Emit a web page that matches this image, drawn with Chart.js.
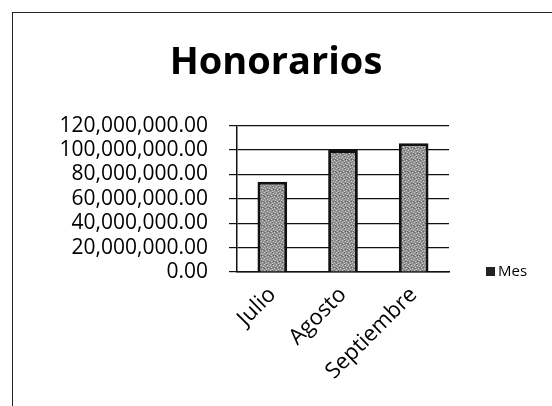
<!DOCTYPE html>
<html><head><meta charset="utf-8">
<script src="https://cdn.jsdelivr.net/npm/chart.js@4/dist/chart.umd.min.js"></script>
<style>
html,body{margin:0;padding:0;background:#fff;}
#wrap{position:relative;width:552px;height:406px;overflow:hidden;}
#frame{position:absolute;left:12px;top:12px;width:700px;height:600px;border:1.5px solid #222;box-sizing:border-box;}
canvas{position:absolute;left:0;top:0;}
</style></head>
<body><div id="wrap"><div id="frame"></div><canvas id="c" width="552" height="406"></canvas></div>
<script>
const categories = ["Julio", "Agosto", "Septiembre"];
const seriesName = "Mes";
const values = [74000000, 100000000, 105500000];
const chartTitle = "Honorarios";

function makePattern(){
  const p = document.createElement('canvas'); p.width = 6; p.height = 6;
  const g = p.getContext('2d');
  g.fillStyle = '#929292'; g.fillRect(0,0,6,6);
  g.fillStyle = '#cccccc';
  [[0,0],[3,1],[1,3],[4,4],[2,5],[5,2]].forEach(([x,y])=>g.fillRect(x,y,1,1));
  g.fillStyle = '#5e5e5e';
  [[2,0],[5,3],[0,4],[3,3]].forEach(([x,y])=>g.fillRect(x,y,1,1));
  return g.createPattern(p,'repeat');
}
const ctx = document.getElementById('c').getContext('2d');
const pat = makePattern();
const fmt = v => v.toLocaleString('en-US',{minimumFractionDigits:2,maximumFractionDigits:2});

const sideLegend = {
  id:'sideLegend',
  afterDraw(ch){
    const a = ch.chartArea, g = ch.ctx;
    const x = a.right + 37, y = a.bottom;
    g.save();
    g.fillStyle = '#222';
    g.fillRect(x, y-5, 9, 9);
    g.fillStyle = '#000';
    g.font = '15px "Open Sans"';
    g.textBaseline = 'middle';
    g.fillText(seriesName, x + 12, y);
    g.restore();
  }
};

new Chart(ctx,{
  type:'bar',
  data:{labels:categories,datasets:[{label:seriesName,data:values,backgroundColor:pat,borderColor:'#111',borderWidth:3,categoryPercentage:1,barPercentage:0.42}]},
  options:{
    responsive:false,animation:false,
    layout:{padding:{left:0,right:0,top:0,bottom:0}},
    plugins:{
      title:{display:true,text:chartTitle,color:'#000',font:{family:'Open Sans',size:38,weight:'bold'},padding:{top:40,bottom:40}},
      legend:{display:false},
      tooltip:{enabled:false}
    },
    scales:{
      y:{min:0,max:120000000,
        ticks:{stepSize:20000000,autoSkip:false,color:'#000',font:{family:'Open Sans',size:21,lineHeight:1.0},padding:21,callback:v=>fmt(v)},
        grid:{color:'#111',lineWidth:1.2,tickLength:8,drawTicks:true},
        border:{color:'#111',width:1.5},
        afterFit:s=>{s.width=237;}
      },
      legendSpace:{position:'right',display:true,
        ticks:{display:false},grid:{display:false,drawTicks:false},border:{display:false},
        afterFit:s=>{s.width=103;}
      },
      x:{
        ticks:{color:'#000',font:{family:'Open Sans',size:22},maxRotation:45,minRotation:45,padding:10},
        grid:{display:false,drawTicks:false},
        border:{color:'#111',width:1.5},
        afterFit:s=>{s.height=134;}
      }
    }
  },
  plugins:[sideLegend]
});
</script></body></html>
